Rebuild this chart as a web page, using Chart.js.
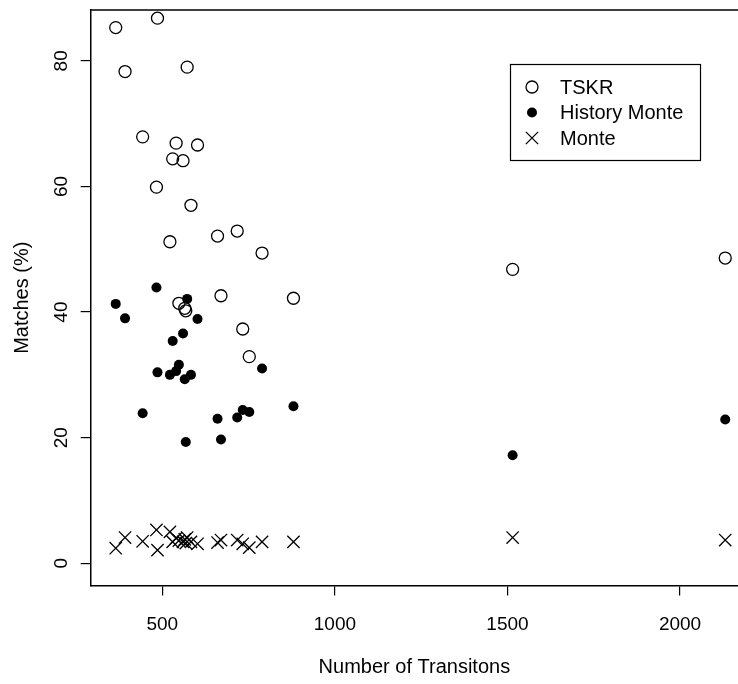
<!DOCTYPE html>
<html lang="en">
<head>
<meta charset="UTF-8">
<title>Matches vs Number of Transitons</title>
<script src="https://cdn.jsdelivr.net/npm/chart.js"></script>
<style>
    html, body { margin: 0; padding: 0; background: #fff; }
    #wrap { width: 738px; height: 684px; }
</style>
</head>
<body>
<div id="wrap"><canvas id="matchChart" width="738" height="684"></canvas></div>
<script>
// number of transitions of each test case (shared by the three methods)
const transitions = [365, 392, 443, 483, 486, 522, 530, 540, 548, 560, 565, 568, 572, 583, 602, 660, 670, 717, 733, 752, 789, 880, 1515, 2131];
// matches in percent
const tskr = [85.3, 78.3, 67.9, 59.9, 86.8, 51.2, 64.4, 66.9, 41.4, 64.1, 40.6, 40.2, 79.0, 57.0, 66.6, 52.1, 42.6, 52.9, 37.3, 32.9, 49.4, 42.2, 46.8, 48.6];
const historyMonte = [41.3, 39.0, 23.9, 43.9, 30.4, 30.0, 35.4, 30.6, 31.6, 36.6, 29.3, 19.3, 42.1, 30.0, 38.9, 23.0, 19.7, 23.2, 24.4, 24.1, 31.0, 25.0, 17.2, 22.9];
const monte = [2.4, 4.1, 3.5, 5.3, 2.1, 5.0, 3.4, 4.0, 3.6, 3.4, 3.8, 3.2, 4.1, 3.4, 3.1, 3.3, 3.7, 3.7, 3.1, 2.5, 3.4, 3.4, 4.1, 3.7];
const seriesNames = ['TSKR', 'History Monte', 'Monte'];
const xTicks = [500, 1000, 1500, 2000];
const yTicks = [0, 20, 40, 60, 80];

const FONT = '"Liberation Sans", Arial, Helvetica, sans-serif';

function toPoints(values) {
    return values.map((v, i) => ({ x: transitions[i], y: v }));
}

// top line of the box (left and bottom come from the axis borders)
const boxTop = {
    id: 'boxTop',
    afterDraw(chart) {
        const { ctx, chartArea } = chart;
        ctx.save();
        ctx.strokeStyle = '#000';
        ctx.lineWidth = 1.5;
        ctx.beginPath();
        ctx.moveTo(chartArea.left, chartArea.top);
        ctx.lineTo(chart.width, chartArea.top);
        ctx.stroke();
        ctx.restore();
    }
};

// R style legend box in the upper right
const legendBox = {
    id: 'legendBox',
    afterDraw(chart) {
        const ctx = chart.ctx;
        ctx.save();
        ctx.fillStyle = '#fff';
        ctx.fillRect(510, 64, 190, 97);
        ctx.strokeStyle = '#000';
        ctx.lineWidth = 1.2;
        ctx.strokeRect(510.5, 64.5, 190, 96);
        chart.data.datasets.forEach((ds, i) => {
            const y = 87 + i * 25.5;
            ctx.fillStyle = ds.backgroundColor;
            ctx.strokeStyle = ds.borderColor;
            ctx.lineWidth = ds.borderWidth;
            if (Chart.helpers && Chart.helpers.drawPoint) {
                Chart.helpers.drawPoint(ctx, {
                    pointStyle: ds.pointStyle,
                    radius: ds.pointRadius,
                    borderWidth: ds.borderWidth,
                    rotation: 0
                }, 532, y);
            }
            ctx.fillStyle = '#000';
            ctx.font = '20px ' + FONT;
            ctx.textAlign = 'left';
            ctx.textBaseline = 'middle';
            ctx.fillText(ds.label, 560, y + 1);
        });
        ctx.restore();
    }
};

const ctx = document.getElementById('matchChart').getContext('2d');

new Chart(ctx, {
    type: 'scatter',
    data: {
        datasets: [
            {
                label: seriesNames[0],
                data: toPoints(tskr),
                pointStyle: 'circle',
                pointRadius: 6,
                borderWidth: 1.3,
                borderColor: '#000',
                backgroundColor: 'rgba(0,0,0,0)',
                order: 3
            },
            {
                label: seriesNames[1],
                data: toPoints(historyMonte),
                pointStyle: 'circle',
                pointRadius: 5,
                borderWidth: 0,
                borderColor: '#000',
                backgroundColor: '#000',
                order: 2
            },
            {
                label: seriesNames[2],
                data: toPoints(monte),
                pointStyle: 'crossRot',
                pointRadius: 8.7,
                borderWidth: 1.3,
                borderColor: '#000',
                backgroundColor: '#000',
                order: 1
            }
        ]
    },
    options: {
        responsive: false,
        animation: false,
        layout: { autoPadding: false, padding: { top: 10, right: 0, bottom: 0, left: 0 } },
        plugins: {
            legend: { display: false },
            tooltip: { enabled: false }
        },
        scales: {
            x: {
                type: 'linear',
                position: 'bottom',
                min: 292.5,
                max: 2168,
                afterBuildTicks: s => { s.ticks = xTicks.map(v => ({ value: v })); },
                afterFit: s => {
                    s.height = 98.5;
                    s.paddingLeft = 0; s.paddingRight = 0;
                },
                grid: { drawOnChartArea: false, drawTicks: true, tickLength: 10, color: '#000', lineWidth: 1.2 },
                border: { display: true, color: '#000', width: 1.5 },
                ticks: {
                    color: '#000',
                    padding: 18,
                    font: { family: FONT, size: 19 },
                    maxRotation: 0,
                    callback: v => String(v)
                },
                title: {
                    display: true,
                    text: 'Number of Transitons',
                    color: '#000',
                    font: { family: FONT, size: 20 },
                    padding: { top: 0, bottom: 5 }
                }
            },
            y: {
                type: 'linear',
                min: -3.54,
                max: 88.1,
                afterBuildTicks: s => { s.ticks = yTicks.map(v => ({ value: v })); },
                afterFit: s => {
                    s.width = 90.7;
                    s.paddingTop = 0; s.paddingBottom = 0;
                },
                grid: { drawOnChartArea: false, drawTicks: true, tickLength: 10, color: '#000', lineWidth: 1.2 },
                border: { display: true, color: '#000', width: 1.5 },
                ticks: {
                    color: '#000',
                    padding: 8,
                    crossAlign: 'center',
                    minRotation: 90,
                    maxRotation: 90,
                    font: { family: FONT, size: 19 },
                    callback: v => String(v)
                },
                title: {
                    display: true,
                    text: 'Matches (%)',
                    color: '#000',
                    font: { family: FONT, size: 20 },
                    padding: { top: 10, bottom: 0 }
                }
            }
        }
    },
    plugins: [boxTop, legendBox]
});
</script>
</body>
</html>
